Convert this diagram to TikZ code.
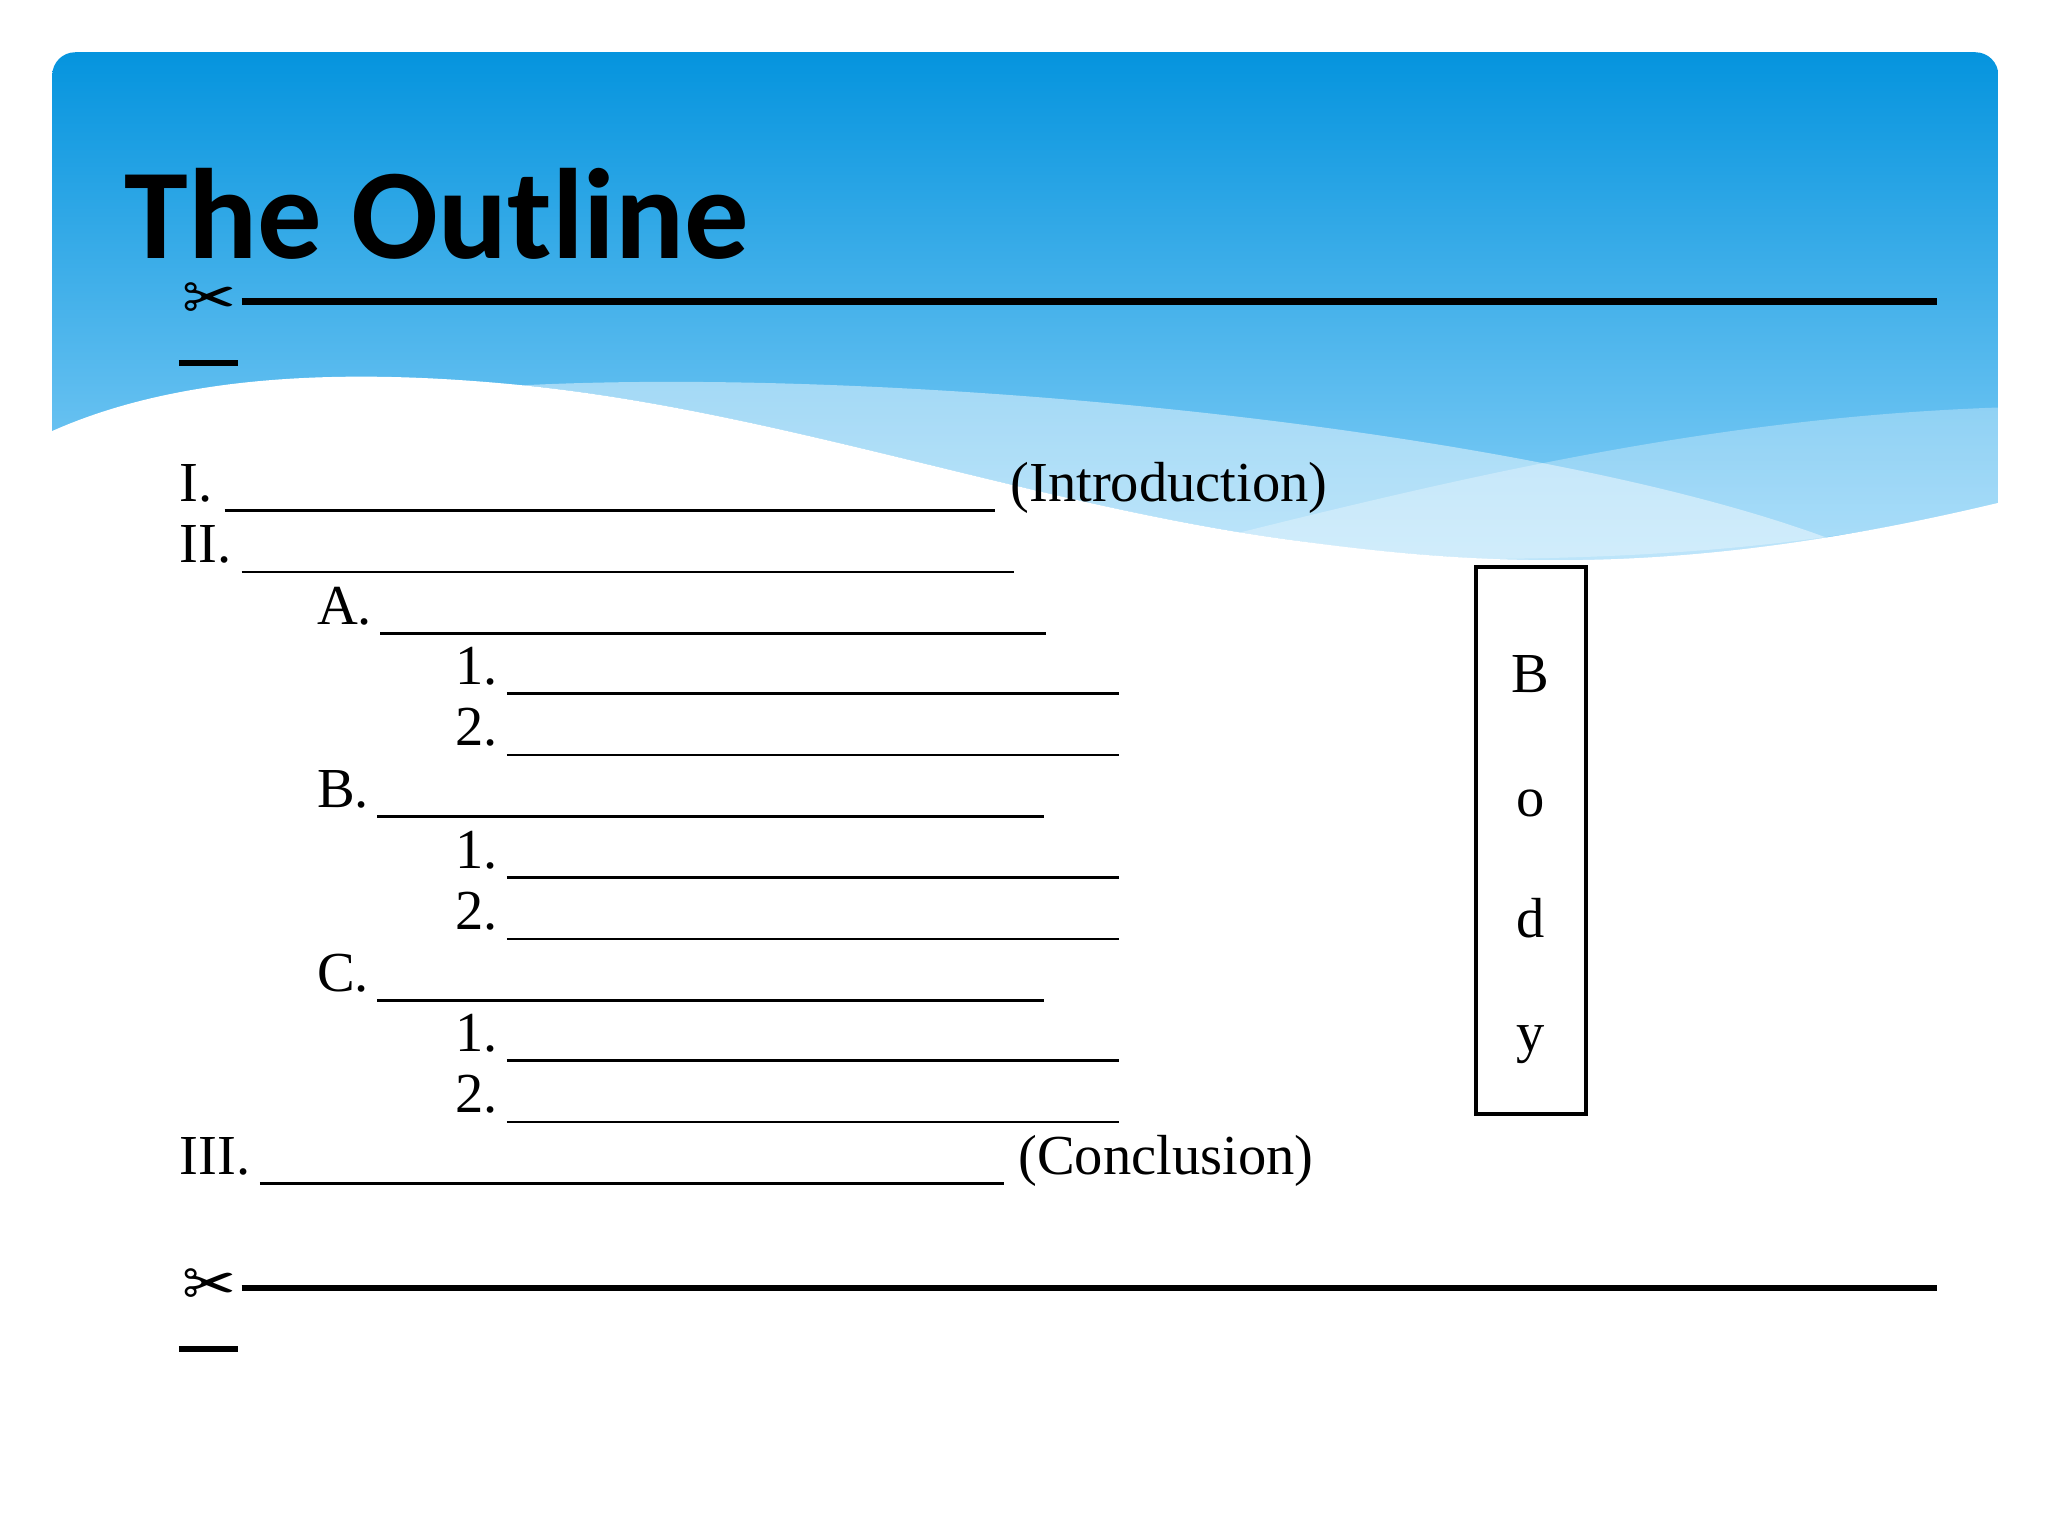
\documentclass[tikz,border=0pt]{standalone}
\usepackage{fontspec}
\setmainfont{Liberation Serif}
\newfontfamily\titlefont{Carlito}
\newfontfamily\symfont{DejaVu Sans}
\begin{document}
\begin{tikzpicture}[x=0.01cm,y=-0.01cm,
  txt/.style={anchor=base west,inner sep=0pt,font=\fontsize{12.3}{14}\selectfont},
  blank/.style={line width=0.6pt},
  cut/.style={line width=1.4pt},
  sc/.style={inner sep=0pt,font=\symfont\fontsize{14}{14}\selectfont}]
\useasboundingbox (0,0) rectangle (1568,1176);
\fill[white] (0,0) rectangle (1568,1176);
\begin{scope}
\clip[rounded corners=5] (40,40) rectangle (1530,600);
\shade[top color={rgb,255:red,5;green,148;blue,222}, bottom color={rgb,255:red,140;green,210;blue,248}] (40,40) rectangle (1530,440);
\fill[white] (40,330) .. controls (130,290) and (250,280) .. (400,295) .. controls (600,315) and (800,390) .. (1000,415) .. controls (1150,435) and (1300,440) .. (1530,385) -- (1530,600) -- (40,600) -- cycle;
\fill[white,opacity=0.45] (400,295) .. controls (700,280) and (1200,330) .. (1420,420) .. controls (1300,440) and (1100,430) .. (1000,415) .. controls (800,390) and (600,315) .. (400,295) -- cycle;
\fill[white,opacity=0.3] (900,420) .. controls (1100,370) and (1300,320) .. (1530,312) -- (1530,385) .. controls (1400,420) and (1200,440) .. (900,420) -- cycle;
\end{scope}
\node[anchor=base west,inner sep=0pt,font=\titlefont\bfseries\fontsize{28}{30}\selectfont] (title) at (95,198) {The Outline};
% cut lines
\node[sc] (s1) at (160,231) {✂};
\draw[cut] (185,231) -- (1483,231);
\draw[cut] (137,278) -- (182,278);
\node[sc] (s2) at (160,986) {✂};
\draw[cut] (185,986) -- (1483,986);
\draw[cut] (137,1033) -- (182,1033);
% outline
\node[txt] (i) at (137,384) {I.};
\draw[blank] (172,391) -- (762,391);
\node[txt] (intro) at (773,384) {(Introduction)};
\node[txt] (ii) at (137,431) {II.};
\draw[blank] (185,438) -- (776,438);
\node[txt] (a) at (242,478) {A.};
\draw[blank] (291,485) -- (801,485);
\node[txt] (a1) at (348,524) {1.};
\draw[blank] (388,531) -- (857,531);
\node[txt] (a2) at (348,571) {2.};
\draw[blank] (388,578) -- (857,578);
\node[txt] (b) at (242,618) {B.};
\draw[blank] (289,625) -- (799,625);
\node[txt] (b1) at (348,665) {1.};
\draw[blank] (388,672) -- (857,672);
\node[txt] (b2) at (348,712) {2.};
\draw[blank] (388,719) -- (857,719);
\node[txt] (c) at (242,759) {C.};
\draw[blank] (289,766) -- (799,766);
\node[txt] (c1) at (348,805) {1.};
\draw[blank] (388,812) -- (857,812);
\node[txt] (c2) at (348,852) {2.};
\draw[blank] (388,859) -- (857,859);
\node[txt] (iii) at (137,899) {III.};
\draw[blank] (199,906) -- (769,906);
\node[txt] (concl) at (779,899) {(Conclusion)};
% body box
\draw[line width=0.9pt] (1130,434) rectangle (1214,853);
\node[txt,anchor=base] (lb) at (1172,530) {B};
\node[txt,anchor=base] (lo) at (1172,625) {o};
\node[txt,anchor=base] (ld) at (1172,718) {d};
\node[txt,anchor=base] (ly) at (1172,805) {y};
\end{tikzpicture}
\end{document}
